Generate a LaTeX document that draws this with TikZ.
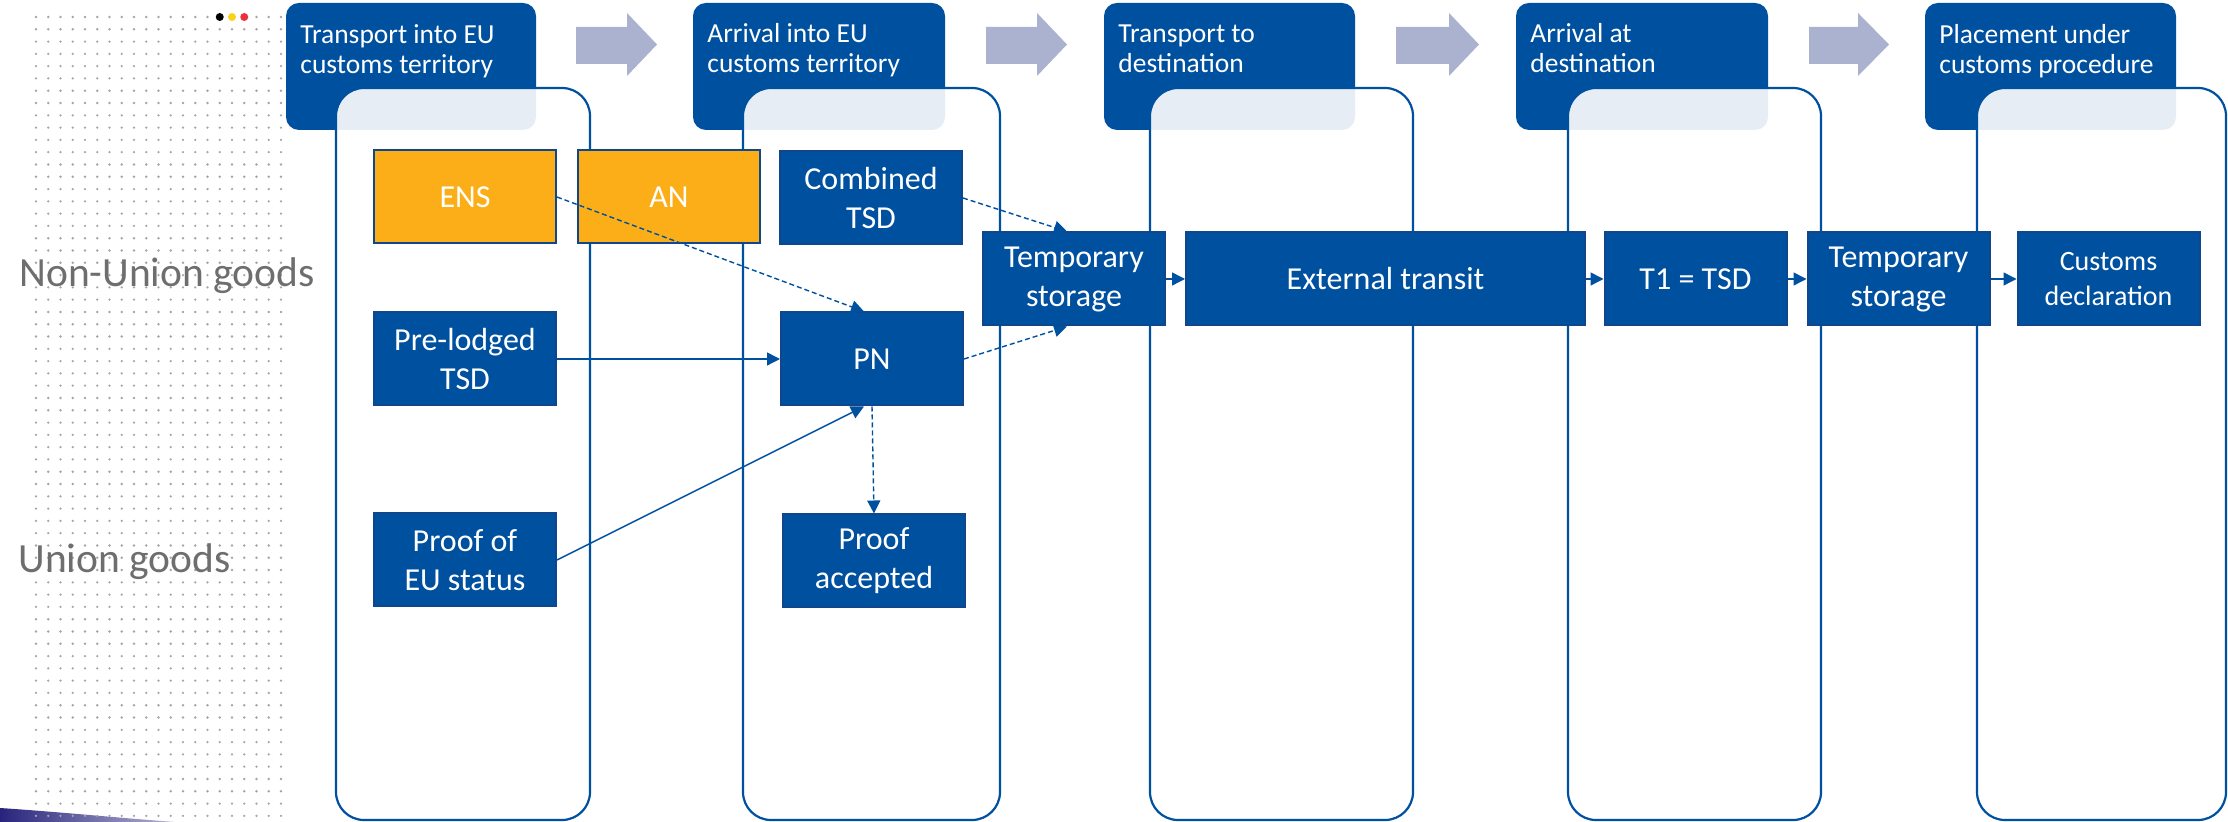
\documentclass[tikz,border=0pt]{standalone}
\usepackage{fontspec}
\setmainfont{Carlito}
\usepackage{xcolor}
\usepackage{tikz}
\usetikzlibrary{shapes,positioning,calc,arrows.meta}

\definecolor{eublue}{RGB}{0,80,160}
\definecolor{eudark}{RGB}{16,70,140}
\definecolor{euorange}{RGB}{251,174,23}
\definecolor{arrowgray}{RGB}{170,178,207}
\definecolor{labelgray}{RGB}{110,110,110}
\definecolor{dotgray}{RGB}{165,165,165}
\definecolor{navy}{RGB}{40,36,125}
\definecolor{flagyellow}{RGB}{250,210,30}
\definecolor{flagred}{RGB}{235,50,60}

\begin{document}
\begin{tikzpicture}[x=0.5pt,y=-0.5pt,
    header/.style={fill=eublue, rounded corners=6.5pt},
    hdrtext/.style={anchor=north west, inner sep=0pt, align=left, text=white, font=\fontsize{13.75}{15}\selectfont},
    lane/.style={draw=eublue, line width=1.1pt, fill=white, fill opacity=0.9, rounded corners=14pt},
    bigarrow/.style={fill=arrowgray},
    stepbox/.style={draw=eudark, line width=1pt, fill=eublue, text=white, minimum width=91pt, minimum height=46.5pt, inner sep=0pt, align=center, font=\fontsize{16}{19.5}\selectfont},
    flagbox/.style={stepbox, fill=euorange},
    goods/.style={anchor=base west, inner sep=0pt, text=labelgray, font=\fontsize{20.75}{24}\selectfont},
    conn/.style={draw=eublue, line width=0.7pt, -{Triangle[length=6.5pt,width=6.5pt]}},
    dashconn/.style={conn, dash pattern=on 2.5pt off 1.5pt}]
    \useasboundingbox (0,0) rectangle (2228,822);

    % dotted background and flag dots
    \shade[left color=navy, right color=navy!35] (0,808) .. controls (60,812) and (120,818) .. (175,822) -- (0,822) -- cycle;
    \foreach \i in {0,...,20}
        \foreach \j in {0,...,65}
            \fill[dotgray] ({36+12.25*\i},{17+12.29*\j}) circle (0.65pt);
    \fill[black] (219.75,17) circle (2pt);
    \fill[flagyellow] (232,17) circle (2pt);
    \fill[flagred] (244.25,17) circle (2pt);

    \node[goods] (nonunion) at (19,287) {Non-Union goods};
    \node[goods] (union) at (18,573) {Union goods};

    % stage headers
    \fill[header] (286,3) rectangle (536,130);
    \fill[header] (693,3) rectangle (945,130);
    \fill[header] (1104,3) rectangle (1355,130);
    \fill[header] (1516,3) rectangle (1768,130);
    \fill[header] (1925,3) rectangle (2176,130);
    \node[hdrtext] (h1) at (300,24) {Transport into EU\\customs territory};
    \node[hdrtext] (h2) at (707,23) {Arrival into EU\\customs territory};
    \node[hdrtext] (h3) at (1118,24) {Transport to\\destination};
    \node[hdrtext] (h4) at (1530,23) {Arrival at\\destination};
    \node[hdrtext] (h5) at (1939,24) {Placement under\\customs procedure};

    \fill[bigarrow] (576,27) -- (627,27) -- (627,13) -- (657,44.5) -- (627,76) -- (627,64) -- (576,64) -- cycle;
    \fill[bigarrow] (986,27) -- (1037,27) -- (1037,13) -- (1067,44.5) -- (1037,76) -- (1037,64) -- (986,64) -- cycle;
    \fill[bigarrow] (1396,27) -- (1449,27) -- (1449,13) -- (1479,44.5) -- (1449,76) -- (1449,64) -- (1396,64) -- cycle;
    \fill[bigarrow] (1809,27) -- (1858,27) -- (1858,13) -- (1889,44.5) -- (1858,76) -- (1858,64) -- (1809,64) -- cycle;

    % lanes
    \draw[lane] (336,88) rectangle (590,820);
    \draw[lane] (743,88) rectangle (1000,820);
    \draw[lane] (1150,88) rectangle (1413,820);
    \draw[lane] (1568,88) rectangle (1821,820);
    \draw[lane] (1977,88) rectangle (2226,820);

    % documents
    \node[flagbox] (ens) at (465,197) {ENS};
    \node[flagbox] (an) at (669,197) {AN};
    \node[stepbox] (combined) at (871,198) {Combined\\TSD};
    \node[stepbox] (prelodged) at (465,359) {Pre-lodged\\TSD};
    \node[stepbox] (pn) at (872,359) {PN};
    \node[stepbox] (proofeu) at (465,560) {Proof of\\EU status};
    \node[stepbox] (proofok) at (874,561) {Proof\\accepted};
    \node[stepbox] (tempa) at (1074,279) {Temporary\\storage};
    \node[stepbox, minimum width=199.5pt] (transit) at (1385.5,279) {External transit};
    \node[stepbox] (tone) at (1695.5,279) {T1 = TSD};
    \node[stepbox] (tempb) at (1898.5,279) {Temporary\\storage};
    \node[stepbox, font=\fontsize{14}{17.5}\selectfont] (decl) at (2108.5,279) {Customs\\declaration};

    % flows
    \draw[dashconn] (ens.east) -- ([xshift=-4pt]pn.north);
    \draw[dashconn] (combined.east) -- ([xshift=-3.5pt]tempa.north);
    \draw[dashconn] (pn.east) -- ([xshift=-3.5pt]tempa.south);
    \draw[conn] (prelodged.east) -- (pn.west);
    \draw[conn] (proofeu.east) -- ([xshift=-4pt]pn.south);
    \draw[dashconn] (pn.south) -- (proofok.north);
    \draw[conn] (tempa) -- (transit);
    \draw[conn] (transit) -- (tone);
    \draw[conn] (tone) -- (tempb);
    \draw[conn] (tempb) -- (decl);
\end{tikzpicture}
\end{document}
